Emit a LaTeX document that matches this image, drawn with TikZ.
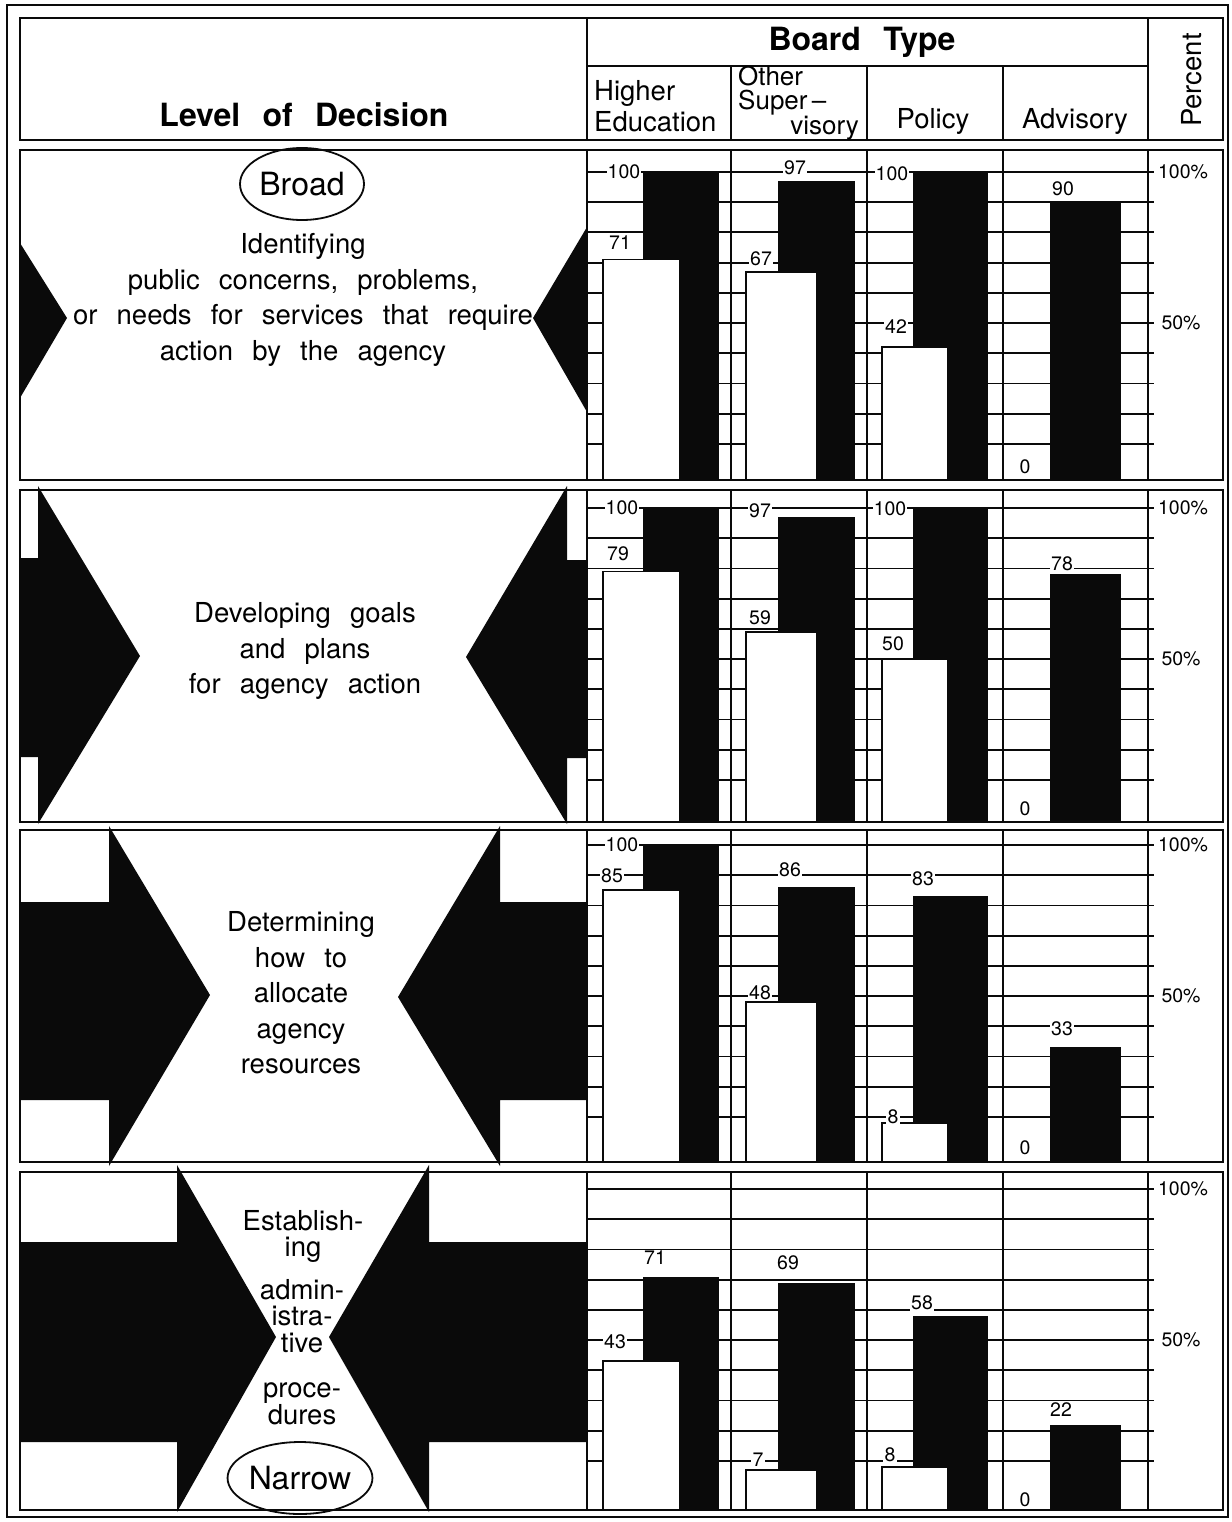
\documentclass[tikz,border=0pt]{standalone}
\usepackage{fontspec}
\setmainfont{TeX Gyre Heros}
\usetikzlibrary{shapes.geometric}
\definecolor{InkBlack}{HTML}{0A0A0A}
\newcommand{\widesp}{\spaceskip=0.7em plus 0.05em\relax}

\begin{document}
\begin{tikzpicture}[x=1pt, y=-1pt,
    rowframe/.style={draw=InkBlack, line width=2.2pt},
    gridrule/.style={draw=InkBlack, line width=1.8pt},
    whitebar/.style={fill=white, draw=InkBlack, line width=1.8pt},
    blackbar/.style={fill=InkBlack},
    arrowfill/.style={fill=InkBlack},
    headtext/.style={font=\fontsize{32}{38}\selectfont\bfseries\widesp, inner sep=0pt},
    colhead/.style={font=\fontsize{27.5}{31}\selectfont, align=left, inner sep=0pt},
    leveltext/.style={font=\fontsize{27.5}{35.5}\selectfont\widesp, align=center, inner sep=0pt},
    barnum/.style={font=\fontsize{19.5}{22}\selectfont, fill=white, inner sep=1.2pt},
    pctnum/.style={font=\fontsize{19.5}{22}\selectfont, inner sep=0pt},
    endcap/.style={ellipse, draw=InkBlack, line width=1.8pt, minimum width=124pt,
                   minimum height=72pt, inner sep=0pt, font=\fontsize{32}{36}\selectfont}]
    \useasboundingbox (0,0) rectangle (1231,1522);

    % Outer frame
    \draw[rowframe] (7,5) rectangle (1228,1517);

    % Header: level of decision
    \draw[rowframe] (20,18) rectangle (587,140);
    \node[headtext] (levelhead) at (304,115) {Level of Decision};

    % Header: board type and columns
    \draw[rowframe] (587,18) rectangle (1223,140);
    \draw[rowframe] (587,66) -- (1148,66);
    \draw[rowframe] (1148,18) -- (1148,140);
    \foreach \x in {731,867,1003}
        \draw[rowframe] (\x,66) -- (\x,140);
    \node[headtext] (boardhead) at (862,42) {Board Type};
    \node[colhead, anchor=west] (higherhead) at (594,106) {Higher\\Education};
    \node[colhead, anchor=base west, font=\fontsize{26}{26}\selectfont] (otherhead) at (738,86) {Other};
    \node[colhead, anchor=base west, font=\fontsize{26}{26}\selectfont] (superhead) at (738,110) {Super\,--};
    \node[colhead, anchor=base east, font=\fontsize{26}{26}\selectfont] (visoryhead) at (859,135) {visory};
    \node[colhead] (policyhead) at (933,121) {Policy};
    \node[colhead] (advisoryhead) at (1075,121) {Advisory};
    \node[colhead, rotate=90] (percenthead) at (1192,80) {Percent};

    % Chart panels: grid, columns and bars
    \foreach \yt/\yb/\yh/\hw/\hb/\sw/\sb/\pw/\pb/\ab in
        {150/480/172/71/100/67/97/42/100/90,
         490/822/508/79/100/59/97/50/100/78,
         830/1162/845/85/100/48/86/8/83/33,
         1172/1510/1189/43/71/7/69/8/58/22} {
        \draw[rowframe] (20,\yt) rectangle (1223,\yb);
        \draw[rowframe] (587,\yt) -- (587,\yb);
        \foreach \k in {0,...,9}
            \draw[gridrule] (587,{\yh+\k*30.2}) -- (1154,{\yh+\k*30.2});
        \foreach \x in {731,867,1003,1148}
            \draw[rowframe] (\x,\yt) -- (\x,\yb);
        % higher education
        \fill[blackbar] (643,{\yh+(100-\hb)*3.02}) rectangle (719,\yb);
        \draw[whitebar] (603,{\yh+(100-\hw)*3.02}) rectangle (680,\yb);
        % other supervisory
        \fill[blackbar] (778,{\yh+(100-\sb)*3.02}) rectangle (855,\yb);
        \draw[whitebar] (746,{\yh+(100-\sw)*3.02}) rectangle (817,\yb);
        % policy
        \fill[blackbar] (913,{\yh+(100-\pb)*3.02}) rectangle (988,\yb);
        \draw[whitebar] (882,{\yh+(100-\pw)*3.02}) rectangle (948,\yb);
        % advisory
        \fill[blackbar] (1050,{\yh+(100-\ab)*3.02}) rectangle (1121,\yb);
        % percent scale
        \node[pctnum] at (1183,\yh) {100\%};
        \node[pctnum] at (1181,{\yh+151}) {50\%};
    }

    % Bar values
    \foreach \x/\y/\t/\n in
        {624/172/100/hedb1, 620/243/71/hedw1, 795/168/97/supb1, 761/259/67/supw1,
         892/174/100/polb1, 896/327/42/polw1, 1063/189/90/advb1, 1025/467/0/advw1,
         622/508/100/hedb2, 618/554/79/hedw2, 760/511/97/supb2, 760/618/59/supw2,
         890/509/100/polb2, 893/644/50/polw2, 1062/564/78/advb2, 1025/809/0/advw2,
         622/845/100/hedb3, 612/876/85/hedw3, 790/870/86/supb3, 760/993/48/supw3,
         923/879/83/polb3, 893/1117/8/polw3, 1062/1029/33/advb3, 1025/1148/0/advw3,
         655/1258/71/hedb4, 615/1342/43/hedw4, 788/1263/69/supb4, 758/1460/7/supw4,
         922/1303/58/polb4, 890/1455/8/polw4, 1061/1410/22/advb4, 1025/1500/0/advw4}
        \node[barnum] (\n) at (\x,\y) {\t};

    % Level 1: broad
    \fill[arrowfill] (20,243) -- (67,318) -- (20,398) -- cycle;
    \fill[arrowfill] (587,227) -- (533,318) -- (587,412) -- cycle;
    \node[endcap] (broad) at (302,184) {Broad};
    \node[leveltext] (identify) at (303,300) {Identifying\\public concerns, problems,\\or needs for services that require\\action by the agency};

    % Level 2: goals and plans
    \fill[arrowfill] (20,558) -- (38,558) -- (38,486) -- (140,656) -- (38,824) -- (38,757) -- (20,757) -- cycle;
    \fill[arrowfill] (587,560) -- (567,560) -- (567,486) -- (466,657) -- (567,824) -- (567,758) -- (587,758) -- cycle;
    \node[leveltext] (goals) at (305,651) {Developing goals\\and plans\\for agency action};

    % Level 3: resources
    \fill[arrowfill] (20,902) -- (109,902) -- (109,826) -- (210,995) -- (109,1166) -- (109,1100) -- (20,1100) -- cycle;
    \fill[arrowfill] (587,902) -- (500,902) -- (500,826) -- (398,997) -- (500,1166) -- (500,1100) -- (587,1100) -- cycle;
    \node[leveltext] (allocate) at (301,993) {Determining\\how to\\allocate\\agency\\resources};

    % Level 4: narrow
    \fill[arrowfill] (20,1242) -- (177,1242) -- (177,1165) -- (276,1337) -- (177,1512) -- (177,1442) -- (20,1442) -- cycle;
    \fill[arrowfill] (587,1242) -- (429,1242) -- (429,1165) -- (329,1337) -- (429,1512) -- (429,1442) -- (587,1442) -- cycle;
    \node[leveltext, font=\fontsize{27.5}{26}\selectfont] (establish) at (303,1236) {Establish-\\ing};
    \node[leveltext, font=\fontsize{27.5}{26.5}\selectfont] (admin) at (302,1316) {admin-\\istra-\\tive};
    \node[leveltext, font=\fontsize{27.5}{26}\selectfont] (procedures) at (302,1404) {proce-\\dures};
    \node[endcap] (narrow) at (300,1478) {Narrow};
\end{tikzpicture}
\end{document}
